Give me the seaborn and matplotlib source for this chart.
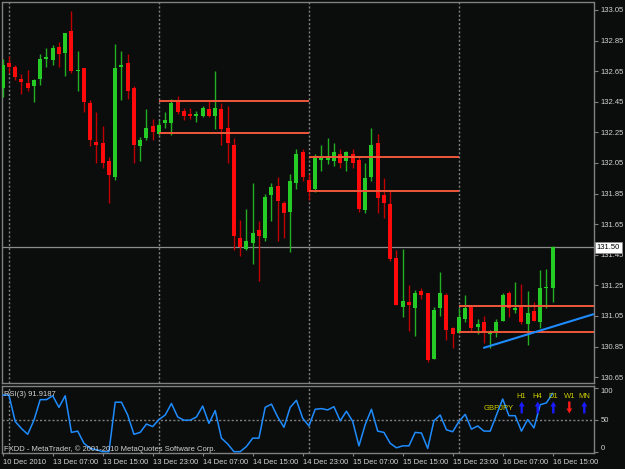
import matplotlib
matplotlib.use("Agg")
import matplotlib.pyplot as plt
import matplotlib.patches as mpatches
import matplotlib.transforms as mtransforms
import numpy as np
import pandas as pd
import seaborn as sns

# ---------------- data ----------------
opens = [132.54, 132.70, 132.68, 132.60, 132.57, 132.55, 132.60, 132.73, 132.72, 132.81,
         132.77, 132.91, 132.65, 132.67, 132.44, 132.19, 132.18, 132.06, 131.96, 132.68,
         132.70, 132.54, 132.16, 132.21, 132.29, 132.24, 132.31, 132.31, 132.45, 132.39,
         132.37, 132.36, 132.36, 132.40, 132.36, 132.40, 132.28, 132.17, 131.56, 131.49,
         131.53, 131.61, 131.56, 131.84, 131.90, 131.79, 131.73, 131.92, 132.12, 131.94,
         131.88, 132.07, 132.07, 132.06, 132.11, 132.06, 132.11, 132.07, 131.74, 131.96,
         132.18, 131.84, 131.78, 131.43, 131.11, 131.14, 131.10, 131.21, 131.20, 130.77,
         131.10, 131.19, 130.97, 130.94, 131.03, 131.11, 130.98, 131.01, 130.93, 130.95,
         131.02, 131.20, 131.09, 131.11, 131.00, 131.08, 131.01, 131.23, 131.23]
highs = [132.73, 132.75, 132.69, 132.63, 132.66, 132.60, 132.76, 132.80, 132.82, 132.84,
         132.90, 133.04, 132.78, 132.67, 132.46, 132.38, 132.29, 132.09, 132.83, 132.78,
         132.76, 132.55, 132.22, 132.40, 132.34, 132.33, 132.38, 132.47, 132.49, 132.41,
         132.41, 132.39, 132.42, 132.46, 132.65, 132.44, 132.42, 132.21, 131.68, 131.75,
         131.92, 131.67, 131.85, 131.92, 131.96, 131.80, 131.98, 132.14, 132.14, 131.98,
         132.11, 132.17, 132.21, 132.18, 132.14, 132.13, 132.14, 132.09, 132.05, 132.28,
         132.24, 131.95, 131.87, 131.48, 131.49, 131.25, 131.22, 131.23, 131.20, 131.11,
         131.34, 131.20, 130.98, 131.10, 131.19, 131.12, 131.03, 131.05, 130.96, 131.03,
         131.20, 131.21, 131.27, 131.26, 131.21, 131.14, 131.35, 131.36, 131.51]
lows = [132.48, 132.64, 132.59, 132.50, 132.52, 132.45, 132.56, 132.68, 132.69, 132.68,
        132.62, 132.64, 132.52, 132.38, 132.16, 132.05, 132.02, 131.79, 131.94, 132.46,
        132.47, 132.05, 132.06, 132.20, 132.20, 132.23, 132.28, 132.23, 132.37, 132.33,
        132.34, 132.32, 132.35, 132.35, 132.27, 132.17, 132.05, 131.48, 131.44, 131.48,
        131.39, 131.28, 131.54, 131.67, 131.54, 131.56, 131.47, 131.88, 131.93, 131.81,
        131.86, 132.00, 132.04, 132.03, 132.02, 132.00, 132.02, 131.73, 131.72, 131.93,
        131.72, 131.69, 131.41, 131.12, 131.04, 130.95, 130.92, 131.16, 130.75, 130.77,
        131.05, 130.89, 130.84, 130.94, 131.01, 130.95, 130.93, 130.87, 130.84, 130.91,
        131.02, 131.04, 131.07, 131.00, 130.86, 131.02, 130.97, 131.10, 131.14]
closes = [132.69, 132.68, 132.61, 132.58, 132.54, 132.59, 132.73, 132.74, 132.80, 132.76,
          132.90, 132.65, 132.66, 132.45, 132.20, 132.17, 132.05, 131.97, 132.67, 132.69,
          132.52, 132.17, 132.20, 132.28, 132.25, 132.30, 132.33, 132.44, 132.38, 132.36,
          132.36, 132.37, 132.41, 132.36, 132.41, 132.27, 132.18, 131.57, 131.50, 131.54,
          131.59, 131.57, 131.83, 131.89, 131.80, 131.72, 131.93, 132.11, 131.96, 131.86,
          132.08, 132.08, 132.08, 132.12, 132.05, 132.12, 132.05, 131.75, 131.95, 132.17,
          131.82, 131.79, 131.42, 131.12, 131.15, 131.12, 131.20, 131.19, 130.76, 131.09,
          131.20, 130.96, 130.93, 131.04, 131.10, 130.97, 131.00, 130.94, 130.94, 131.01,
          131.19, 131.10, 131.10, 131.01, 131.07, 131.02, 131.23, 131.24, 131.50]
rsi = [89, 89, 48, 37, 28, 50, 82, 82, 88, 70,
       88, 31, 33, 14, 6, 4, 1, 1, 78, 78,
       58, 28, 31, 44, 40, 51, 58, 76, 55, 50,
       50, 55, 72, 45, 65, 22, 13, 1, 1, 9,
       22, 22, 70, 75, 55, 39, 70, 81, 53, 41,
       67, 68, 66, 71, 49, 64, 48, 10, 43, 67,
       33, 31, 14, 7, 10, 10, 31, 30, 6, 49,
       58, 35, 32, 48, 59, 36, 41, 33, 33, 58,
       83, 57, 57, 33, 51, 38, 74, 77, 92]

price_ticks = [133.05, 132.85, 132.65, 132.45, 132.25, 132.05, 131.85, 131.65,
               131.45, 131.25, 131.05, 130.85, 130.65]
time_labels = ["10 Dec 2010", "13 Dec 07:00", "13 Dec 15:00", "13 Dec 23:00",
               "14 Dec 07:00", "14 Dec 15:00", "14 Dec 23:00", "15 Dec 07:00",
               "15 Dec 15:00", "15 Dec 23:00", "16 Dec 07:00", "16 Dec 15:00"]
time_tick_bars = [0, 8, 16, 24, 32, 40, 48, 56, 64, 72, 80, 88]
day_separators = [1, 25, 49, 73]

level_start = [25, 49, 73]
level_end = [49, 73, 95]
level_high = [132.452, 132.091, 131.115]
level_low = [132.244, 131.869, 130.947]

trend_x = [77, 94.5]
trend_y = [130.842, 131.061]
current_price = 131.50
rsi_levels = [100, 50, 0]

tf_labels = ["H1", "H4", "D1", "W1", "MN"]
tf_up = [True, True, True, False, True]
symbol = "GBPJPY"

# ---------------- style ----------------
BG = "#0b0c0c"
FRAME = "#808080"
TXT = "#d4d4d4"
BULL = "#26cc26"
BULL_WICK = "#22b022"
BEAR = "#ff0a0a"
BEAR_WICK = "#c00000"
LEVEL = "#f0583a"
BLUE = "#1e8cff"
YEL = "#cccc00"

sns.set_style("dark", {"axes.facecolor": BG, "figure.facecolor": BG,
                       "axes.edgecolor": FRAME, "grid.color": BG})
plt.rcParams["font.family"] = ["Liberation Sans", "DejaVu Sans"]

W, H = 625, 469
fig = plt.figure(figsize=(W / 100, H / 100), dpi=100, facecolor=BG)

def fx(px):
    return px / W

def fy(py):
    return 1 - py / H

ax = fig.add_axes([fx(2), fy(383), fx(594) - fx(2), fy(2.5) - fy(383)])
axr = fig.add_axes([fx(2), fy(453), fx(594) - fx(2), fy(385.5) - fy(453)])

n = len(opens)
idx = np.arange(n)
o = np.array(opens); c = np.array(closes); h = np.array(highs); l = np.array(lows)
bull = c >= o

x_lo, x_hi = -0.112, 94.61
for a in (ax, axr):
    a.set_facecolor(BG)
    a.set_xlim(x_lo, x_hi)
    a.grid(False)
    for s in a.spines.values():
        s.set_color(FRAME)
        s.set_linewidth(1.0)
    for sep in day_separators:
        a.axvline(sep, color=FRAME, lw=1.0, ls=(0, (1.5, 1.5)), zorder=1)

ax.set_ylim(133.115 - 383 / 153, 133.115 - 2.5 / 153)

# wicks
ax.vlines(idx[bull], l[bull], h[bull], color=BULL_WICK, lw=1.0, zorder=3)
ax.vlines(idx[~bull], l[~bull], h[~bull], color=BEAR_WICK, lw=1.0, zorder=3)
# bodies
body_bottom = np.minimum(o, c)
body_h = np.maximum(np.abs(c - o), 0.007)
ax.bar(idx[bull], body_h[bull], bottom=body_bottom[bull], width=0.64,
       color=BULL, linewidth=0, zorder=4)
ax.bar(idx[~bull], body_h[~bull], bottom=body_bottom[~bull], width=0.64,
       color=BEAR, linewidth=0, zorder=4)

# level segments
for xs, xe, yh, yl in zip(level_start, level_end, level_high, level_low):
    ax.hlines([yh, yl], xs, xe, color=LEVEL, lw=1.4, zorder=5)

# current price line
ax.axhline(current_price, color="#8c8c8c", lw=0.9, zorder=2)

# trend line
sns.lineplot(x=trend_x, y=trend_y, ax=ax, color=BLUE, lw=1.5, zorder=6, legend=False)

ax.yaxis.tick_right()
ax.set_yticks(price_ticks)
ax.set_yticklabels([f"{p:.2f}" for p in price_ticks])
ax.tick_params(axis="y", colors=FRAME, labelcolor=TXT, labelsize=5.5,
               length=3, width=0.8, pad=2, left=False, right=True)
ax.set_xticks([])
ax.set_xlabel(""); ax.set_ylabel("")

ax.text(1.0 + 2.5 / 592, current_price, f"{current_price:.2f}",
        transform=mtransforms.blended_transform_factory(ax.transAxes, ax.transData),
        ha="left", va="center", fontsize=5.5, color="black", zorder=10, clip_on=False,
        bbox=dict(facecolor="white", edgecolor="#909090", boxstyle="square,pad=0.25", lw=0.6))

# RSI window
df = pd.DataFrame({"bar": idx, "rsi": rsi})
sns.lineplot(data=df, x="bar", y="rsi", ax=axr, color=BLUE, lw=1.1, zorder=4, legend=False)
axr.axhline(50, color=FRAME, lw=1.0, ls=(0, (1.5, 1.5)), zorder=1)
axr.set_ylim(-1.1, 104)
axr.yaxis.tick_right()
axr.set_yticks(rsi_levels)
axr.set_yticklabels([str(v) for v in rsi_levels])
for lab, va in zip(axr.get_yticklabels(), ["top", "center", "bottom"]):
    lab.set_va(va)
axr.tick_params(axis="y", colors=FRAME, labelcolor=TXT, labelsize=5.5,
                length=3, width=0.8, pad=2, left=False, right=True)
axr.set_xticks(time_tick_bars)
axr.set_xticklabels(time_labels)
for lab in axr.get_xticklabels():
    lab.set_ha("left")
axr.tick_params(axis="x", colors=FRAME, labelcolor=TXT, labelsize=5.5,
                length=2, width=0.8, pad=2, bottom=True)
axr.set_xlabel(""); axr.set_ylabel("")

# texts
fig.text(fx(4), fy(394), f"RSI(3) {91.9187:.4f}", color=TXT, fontsize=5.5, va="center")
fig.text(fx(4), fy(449), "FXDD - MetaTrader, \u00a9 2001-2010 MetaQuotes Software Corp.",
         color=TXT, fontsize=5.5, va="center")

fig.text(fx(498.7), fy(408.3), symbol, color=YEL, fontsize=5.5, ha="center", va="center")
tf_x = [521.7, 537.7, 553.3, 569.3, 584.3]
for lab, up, xp in zip(tf_labels, tf_up, tf_x):
    fig.text(fx(xp), fy(396.7), lab, color=YEL, fontsize=5.5, ha="center", va="center")
    top_y, bot_y = H - 401.5, H - 413.5
    if up:
        start, end, col = (xp, bot_y), (xp, top_y), "#1a1aff"
    else:
        start, end, col = (xp, top_y), (xp, bot_y), "#ff1a1a"
    fig.add_artist(mpatches.FancyArrowPatch(
        start, end, transform=None,
        arrowstyle="simple,head_width=4.2,head_length=3.6,tail_width=1.7",
        color=col, lw=0, mutation_scale=1, shrinkA=0, shrinkB=0))

fig.savefig("out.png", dpi=100, facecolor=BG)
